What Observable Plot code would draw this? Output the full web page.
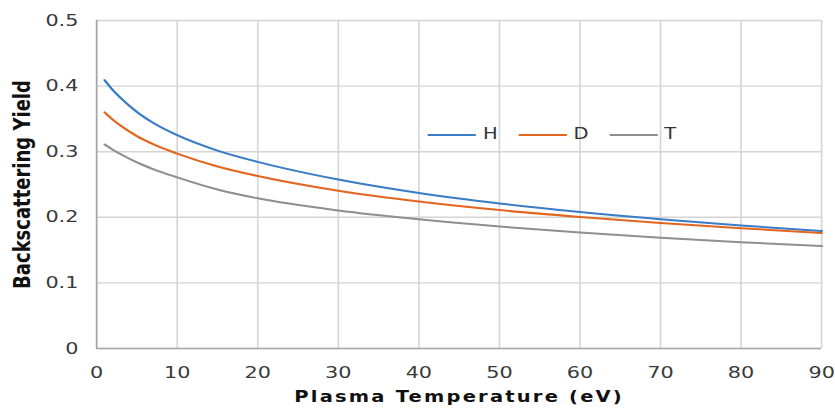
<!DOCTYPE html>
<html>
<head>
<meta charset="utf-8">
<script src="https://cdn.jsdelivr.net/npm/d3@7"></script>
<script src="https://cdn.jsdelivr.net/npm/@observablehq/plot@0.6"></script>
<style>
  html, body { margin: 0; padding: 0; background: #fff; overflow: hidden; }
  #page { position: relative; width: 835px; height: 410px; }
  #stage { position: absolute; left: 0; top: 0; height: 410px; transform-origin: 0 0; font-family: "DejaVu Sans", Verdana, sans-serif; }
  #stage svg { position: absolute; left: 0; top: 0; }
  g[aria-label="y-axis label"] text { font-weight: bold; fill: #111; font-size: 18px; }
  g[aria-label="x-axis label"] text { font-weight: bold; fill: #111; font-size: 15px; letter-spacing: 1.7px; }
  #legend { position: absolute; display: flex; align-items: center; font-size: 15px; color: #333; line-height: 1; }
  #legend .item { display: flex; align-items: center; }
  #legend .sw { height: 2px; }
</style>
</head>
<body>
<div id="page"><div id="stage"></div></div>
<script>
const temps = [1, 2, 3, 5, 7, 10, 15, 20, 30, 40, 50, 60, 70, 80, 90];
const seriesNames = ["H", "D", "T"];
const hYield = [0.409, 0.3941, 0.3815, 0.3606, 0.3442, 0.3252, 0.3017, 0.2845, 0.2575, 0.237, 0.221, 0.208, 0.197, 0.1875, 0.179];
const dYield = [0.360, 0.3488, 0.3394, 0.3237, 0.3114, 0.2971, 0.2775, 0.263, 0.2405, 0.224, 0.211, 0.2005, 0.1913, 0.1833, 0.176];
const tYield = [0.311, 0.3031, 0.2961, 0.2837, 0.2735, 0.2609, 0.2424, 0.2289, 0.2104, 0.1969, 0.1859, 0.1767, 0.1689, 0.1621, 0.1561];
const colors = ["#3a7cc6", "#e2661f", "#8f8f8f"];
const xTicks = [0, 10, 20, 30, 40, 50, 60, 70, 80, 90];
const yTicks = [0, 0.1, 0.2, 0.3, 0.4, 0.5];

// the reference is horizontally stretched; draw narrower and stretch the whole stage
const stretch = 1.3;
const W = 835 / stretch;

const values = [hYield, dYield, tYield];
const data = [];
seriesNames.forEach((s, i) => temps.forEach((t, j) => data.push({series: s, temp: t, yield: values[i][j]})));

const chart = Plot.plot({
  width: W,
  height: 410,
  marginLeft: 96 / stretch,
  marginRight: 14 / stretch,
  marginTop: 20,
  marginBottom: 62,
  style: {fontFamily: "DejaVu Sans, Verdana, sans-serif", fontSize: "16px", color: "#3a3a3a", background: "white"},
  x: {domain: [0, 90]},
  y: {domain: [0, 0.5]},
  color: {domain: seriesNames, range: colors},
  marks: [
    Plot.gridX(xTicks, {stroke: "#d4d4d4", strokeOpacity: 1, strokeWidth: 1.2}),
    Plot.gridY(yTicks, {stroke: "#d4d4d4", strokeOpacity: 1, strokeWidth: 1.4}),
    Plot.ruleX([0], {stroke: "#a8a8a8", strokeWidth: 1.3}),
    Plot.ruleY([0], {stroke: "#a8a8a8", strokeWidth: 1.6}),
    Plot.axisX(xTicks, {tickSize: 0, tickPadding: 18, fontSize: 16, label: "Plasma Temperature (eV)", labelAnchor: "center", labelOffset: 54, labelArrow: "none"}),
    Plot.axisY(yTicks, {tickSize: 0, tickPadding: 14, fontSize: 16, tickFormat: d => d === 0 ? "0" : d.toFixed(1), label: "Backscattering Yield", labelAnchor: "center", labelOffset: 64, labelArrow: "none"}),
    Plot.line(data, {x: "temp", y: "yield", stroke: "series", z: "series", strokeWidth: 2, curve: "monotone-x"})
  ]
});

const stage = document.getElementById("stage");
stage.style.width = W + "px";
stage.style.transform = `scaleX(${stretch})`;
stage.appendChild(chart);

const legend = document.createElement("div");
legend.id = "legend";
legend.style.left = (428 / stretch) + "px";
legend.style.top = "127px";
seriesNames.forEach((s, i) => {
  const item = document.createElement("div");
  item.className = "item";
  item.style.marginRight = (i < seriesNames.length - 1 ? 16 : 0) + "px";
  const sw = document.createElement("div");
  sw.className = "sw";
  sw.style.width = (48 / stretch) + "px";
  sw.style.marginRight = (7 / stretch) + "px";
  sw.style.background = colors[i];
  const lab = document.createElement("span");
  lab.textContent = s;
  item.appendChild(sw);
  item.appendChild(lab);
  legend.appendChild(item);
});
stage.appendChild(legend);
</script>
</body>
</html>
